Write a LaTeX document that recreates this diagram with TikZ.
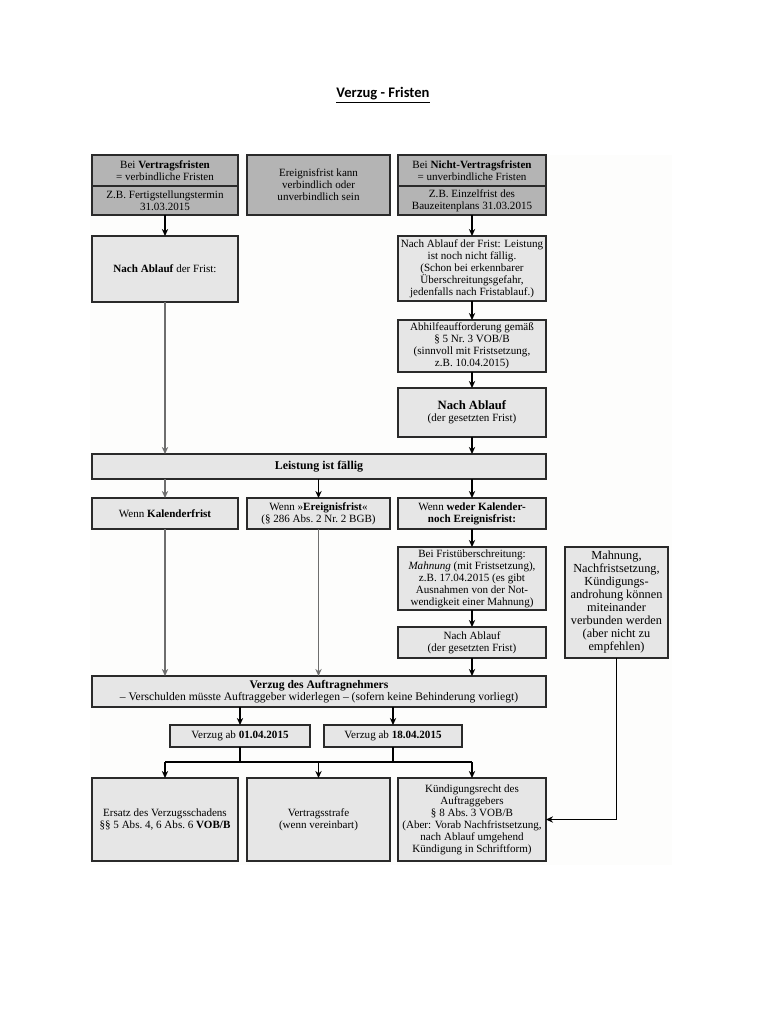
\documentclass[tikz,border=0pt]{standalone}
\usepackage{fontspec}
\setmainfont{Liberation Serif}
\newfontfamily\titlefont{Carlito}
\usetikzlibrary{arrows.meta, positioning, calc}
\definecolor{fristDark}{HTML}{B4B4B4}
\definecolor{fristLight}{HTML}{E6E6E6}
\definecolor{fristLine}{HTML}{2A2A2A}
\definecolor{fristGrey}{HTML}{6E6E6E}
\definecolor{fristPaper}{HTML}{FDFDFC}

\begin{document}
\begin{tikzpicture}[
  x=0.02cm, y=-0.02cm,
  >={Stealth[length=4pt,width=3.6pt]},
  font=\fontsize{6.3}{6.8}\selectfont,
  darkbox/.style={draw=fristLine, line width=0.9pt, fill=fristDark, align=center,
                  inner sep=1pt, outer sep=0pt},
  lightbox/.style={draw=fristLine, line width=0.9pt, fill=fristLight, align=center,
                   inner sep=1pt, outer sep=0pt},
  flow/.style={->, line width=0.7pt, draw=black},
  flowgrey/.style={->, line width=0.7pt, draw=fristGrey},
  busline/.style={line width=0.7pt, draw=black}
]
\useasboundingbox (0,0) rectangle (768,1024);
\fill[fristPaper] (90,155) rectangle (672,865);

\node[font=\titlefont\bfseries\fontsize{8.3}{10}\selectfont] (titel) at (383,95)
  {\underline{Verzug - Fristen}};

% obere Reihe
\node[darkbox, minimum width=2.92cm, minimum height=0.62cm] (vertTop) at (165,170.5)
  {Bei \textbf{Vertragsfristen}\\= verbindliche Fristen};
\node[darkbox, minimum width=2.92cm, minimum height=0.58cm, below=0pt of vertTop] (vertBot)
  {Z.B. Fertigstellungstermin\\31.03.2015};
\node[darkbox, minimum width=2.86cm, minimum height=1.2cm] (ereignis) at (318.5,185)
  {Ereignisfrist kann\\verbindlich oder\\unverbindlich sein};
\node[darkbox, minimum width=2.96cm, minimum height=0.62cm] (nichtTop) at (472,170.5)
  {Bei \textbf{Nicht-Vertragsfristen}\\= unverbindliche Fristen};
\node[darkbox, minimum width=2.96cm, minimum height=0.58cm, below=0pt of nichtTop] (nichtBot)
  {Z.B. Einzelfrist des\\Bauzeitenplans 31.03.2015};

% linke Spalte / rechte Spalte
\node[lightbox, minimum width=2.92cm, minimum height=1.32cm] (nachAblauf) at (165,269)
  {\textbf{Nach Ablauf} der Frist:};
\node[lightbox, minimum width=2.96cm, minimum height=1.30cm] (nichtFaellig) at (472,268.5)
  {Nach Ablauf der Frist: Leistung\\ist noch nicht f\"allig.\\(Schon bei erkennbarer\\
   \"Uberschreitungsgefahr,\\jedenfalls nach Fristablauf.)};
\node[lightbox, minimum width=2.96cm, minimum height=1.04cm] (abhilfe) at (472,346)
  {Abhilfeaufforderung gem\"a\ss\\\S~5 Nr.~3 VOB/B\\(sinnvoll mit Fristsetzung,\\z.B. 10.04.2015)};
\node[lightbox, minimum width=2.96cm, minimum height=0.98cm] (ablaufFrist) at (472,412.5)
  {{\fontsize{7.2}{9}\selectfont\textbf{Nach Ablauf}}\\(der gesetzten Frist)};

\node[lightbox, minimum width=9.08cm, minimum height=0.5cm, font=\fontsize{6.8}{7}\selectfont]
  (faellig) at (319,466.5) {\textbf{Leistung ist f\"allig}};

% Fallunterscheidung
\node[lightbox, minimum width=2.92cm, minimum height=0.62cm] (kalender) at (165,513.5)
  {Wenn \textbf{Kalenderfrist}};
\node[lightbox, minimum width=2.86cm, minimum height=0.62cm] (ereignisFall) at (318.5,513.5)
  {Wenn »\textbf{Ereignisfrist}«\\(\S~286 Abs.~2 Nr.~2 BGB)};
\node[lightbox, minimum width=2.96cm, minimum height=0.62cm] (ohneFrist) at (472,513.5)
  {Wenn \textbf{weder Kalender-}\\\textbf{noch Ereignisfrist:}};

\node[lightbox, minimum width=2.96cm, minimum height=1.26cm] (mahnung) at (472,578.5)
  {Bei Frist\"uberschreitung:\\\textit{Mahnung} (mit Fristsetzung),\\z.B. 17.04.2015 (es gibt\\
   Ausnahmen von der Not-\\wendigkeit einer Mahnung)};
\node[lightbox, minimum width=2.96cm, minimum height=0.62cm] (ablaufMahnung) at (472,642.5)
  {Nach Ablauf\\(der gesetzten Frist)};
\node[lightbox, minimum width=2.06cm, minimum height=2.22cm, font=\fontsize{7}{7.4}\selectfont]
  (mahnHinweis) at (616.5,602.5)
  {Mahnung,\\Nachfristsetzung,\\K\"undigungs-\\androhung k\"onnen\\miteinander\\
   verbunden werden\\(aber nicht zu\\empfehlen)};

\node[lightbox, minimum width=9.08cm, minimum height=0.62cm, font=\fontsize{6.6}{7.2}\selectfont]
  (verzugAN) at (319,691.5)
  {\textbf{Verzug des Auftragnehmers}\\
   -- Verschulden m\"usste Auftraggeber widerlegen -- (sofern keine Behinderung vorliegt)};

\node[lightbox, minimum width=2.8cm, minimum height=0.44cm] (abDatumA) at (240,736)
  {Verzug ab \textbf{01.04.2015}};
\node[lightbox, minimum width=2.76cm, minimum height=0.44cm] (abDatumB) at (393,736)
  {Verzug ab \textbf{18.04.2015}};

% Rechtsfolgen
\node[lightbox, minimum width=2.92cm, minimum height=1.66cm] (ersatz) at (165,819.5)
  {Ersatz des Verzugsschadens\\\S\S~5 Abs.~4, 6 Abs.~6 \textbf{VOB/B}};
\node[lightbox, minimum width=2.86cm, minimum height=1.66cm] (strafe) at (318.5,819.5)
  {Vertragsstrafe\\(wenn vereinbart)};
\node[lightbox, minimum width=2.96cm, minimum height=1.66cm] (kuendigung) at (472,819.5)
  {K\"undigungsrecht des\\Auftraggebers\\\S~8 Abs.~3 VOB/B\\(Aber: Vorab Nachfristsetzung,\\
   nach Ablauf umgehend\\K\"undigung in Schriftform)};

\coordinate (bus) at (319,762);

% Verbindungen
\draw[flow] (vertBot) -- (nachAblauf);
\draw[flow] (nichtBot) -- (nichtFaellig);
\draw[flow] (nichtFaellig) -- (abhilfe);
\draw[flow] (abhilfe) -- (ablaufFrist);
\draw[flow] (ablaufFrist) -- (ablaufFrist |- faellig.north);
\draw[flowgrey] (nachAblauf) -- (nachAblauf |- faellig.north);

\draw[flowgrey] (kalender |- faellig.south) -- (kalender);
\draw[flow] (ereignisFall |- faellig.south) -- (ereignisFall);
\draw[flow] (ohneFrist |- faellig.south) -- (ohneFrist);

\draw[flow] (ohneFrist) -- (mahnung);
\draw[flow] (mahnung) -- (ablaufMahnung);
\draw[flow] (ablaufMahnung) -- (ablaufMahnung |- verzugAN.north);
\draw[flowgrey] (kalender) -- (kalender |- verzugAN.north);
\draw[flowgrey] (ereignisFall) -- (ereignisFall |- verzugAN.north);

\draw[flow] (abDatumA |- verzugAN.south) -- (abDatumA);
\draw[flow] (abDatumB |- verzugAN.south) -- (abDatumB);

\draw[busline] (abDatumA) -- (abDatumA |- bus);
\draw[busline] (abDatumB) -- (abDatumB |- bus);
\draw[busline] (ersatz |- bus) -- (kuendigung |- bus);
\draw[flow] (ersatz |- bus) -- (ersatz);
\draw[flow] (strafe |- bus) -- (strafe);
\draw[flow] (kuendigung |- bus) -- (kuendigung);

\draw[flow] (mahnHinweis) |- (kuendigung.east);
\end{tikzpicture}
\end{document}
